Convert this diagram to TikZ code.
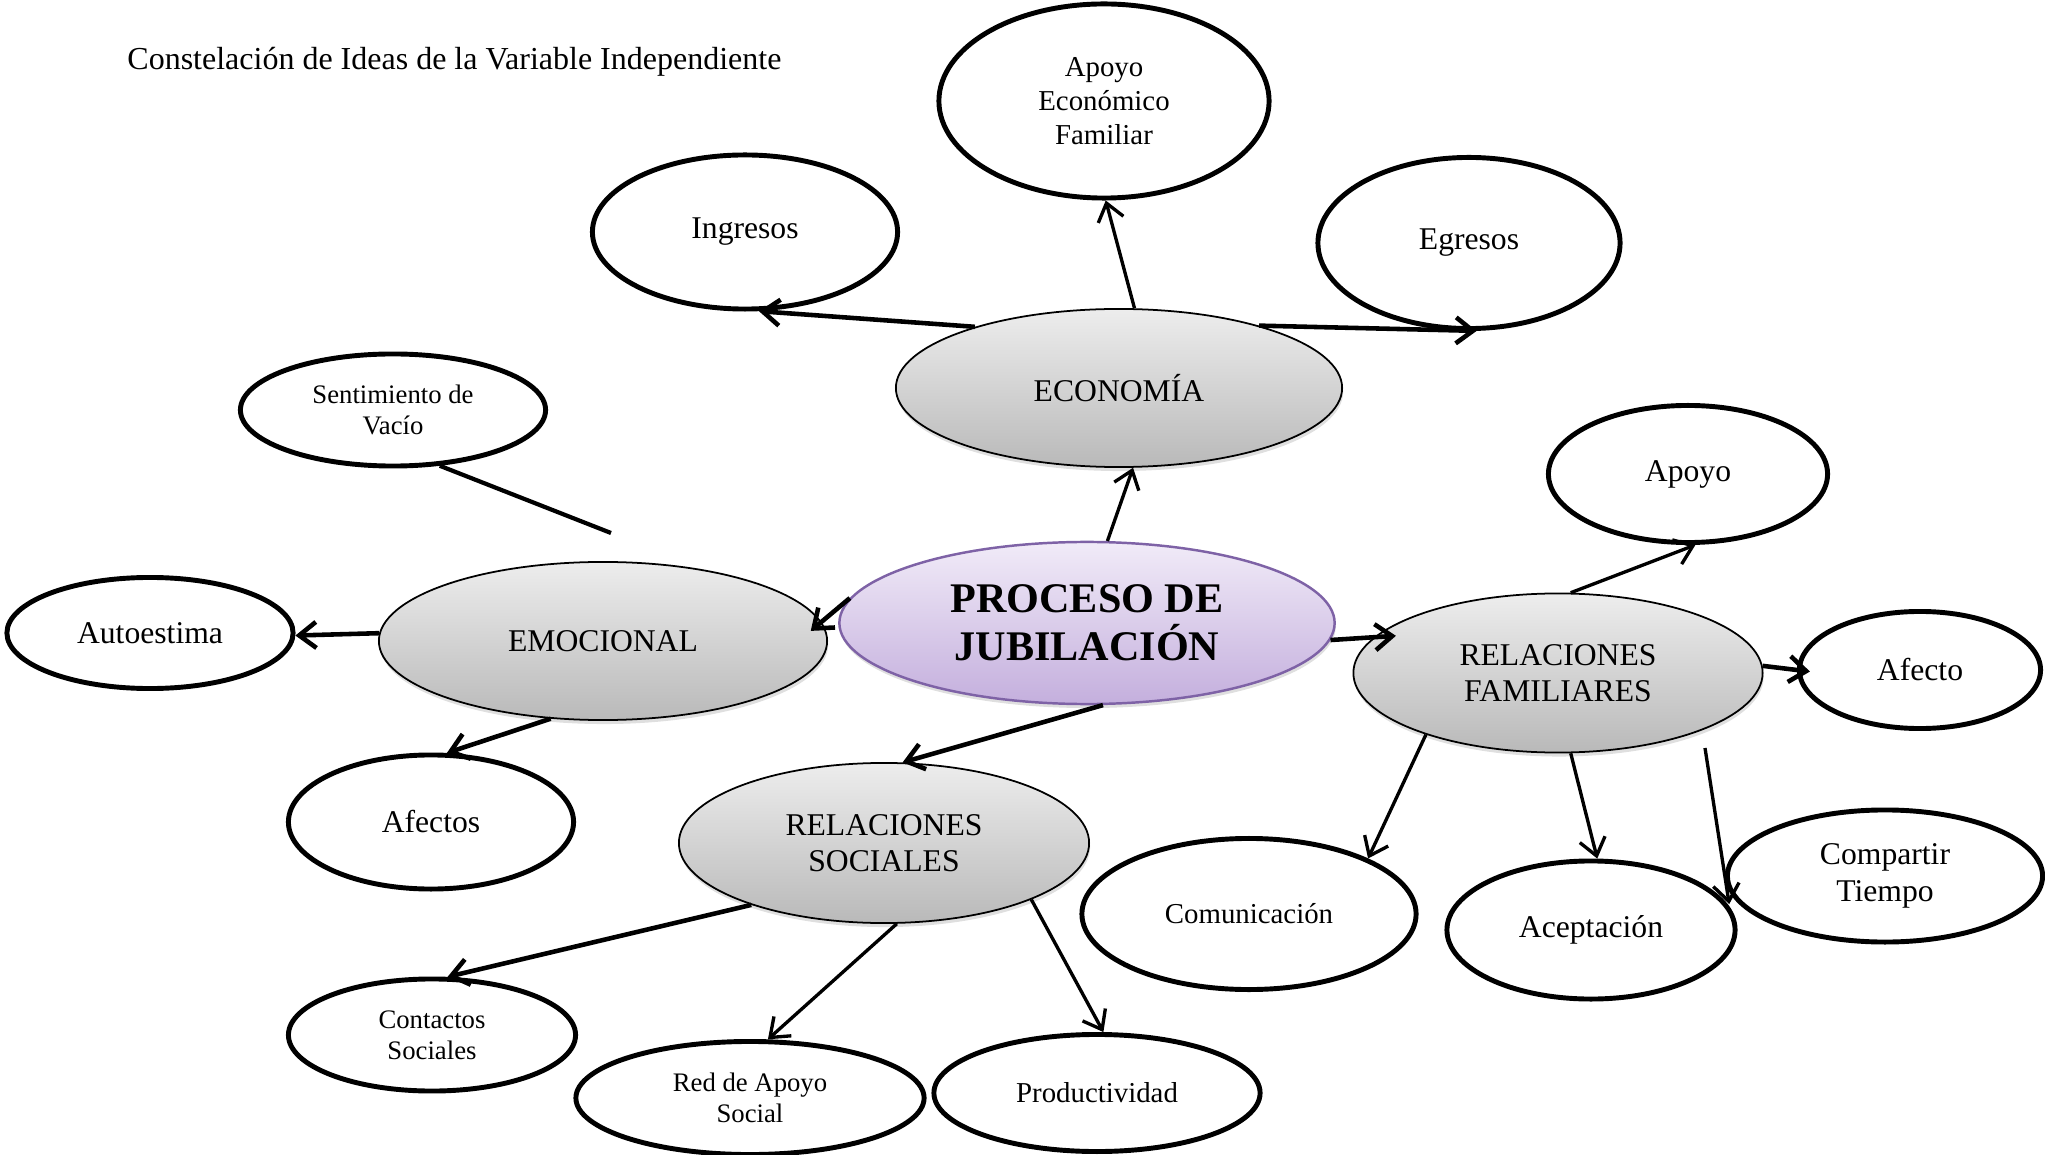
\documentclass[tikz,border=0pt]{standalone}
\usepackage{fontspec}
\setmainfont{Liberation Serif}
\usetikzlibrary{shapes.geometric,arrows.meta,shadows}

\definecolor{grisclaro}{HTML}{EDEDED}
\definecolor{grisoscuro}{HTML}{B9B9B9}
\definecolor{lilaclaro}{HTML}{F1EBF8}
\definecolor{lilaoscuro}{HTML}{C4AFDD}
\definecolor{lilaborde}{HTML}{7E62A6}

\tikzset{
	idea/.style={ellipse, draw, line width=1.4pt, fill=white, inner sep=0pt, align=center,
		font=\fontsize{9}{10.4}\selectfont},
	ideachica/.style={idea, font=\fontsize{7.6}{8.9}\selectfont},
	ideamedia/.style={idea, font=\fontsize{8.2}{9.6}\selectfont},
	eje/.style={idea, line width=0.5pt, top color=grisclaro, bottom color=grisoscuro,
		drop shadow={shadow xshift=0.01cm, shadow yshift=-0.04cm, opacity=0.25}},
	centro/.style={eje, draw=lilaborde, line width=0.7pt, top color=lilaclaro, bottom color=lilaoscuro,
		font=\fontsize{12}{13.7}\selectfont\bfseries},
	flecha/.style={line width=1.3pt, -{Straight Barb[length=0.17cm, width=0.26cm]}},
	fina/.style={flecha, line width=0.95pt}
}

\begin{document}
\begin{tikzpicture}[x=0.01cm,y=-0.01cm]

	\useasboundingbox (0,0) rectangle (2045,1155);

	\coordinate (Cproc) at (1087,623);
	\coordinate (Ceco) at (1119,388);
	\coordinate (Cemo) at (603,641);
	\coordinate (Crfam) at (1558,673);
	\coordinate (Crsoc) at (884,843);

	\coordinate (vacFin) at (611,533);
	\coordinate (cmpIni) at (1705,748);

	\node[anchor=west, font=\fontsize{9.1}{11}\selectfont] (titulo) at (115,62) {Constelación de Ideas de la Variable Independiente};

	\node[centro, minimum width=4.95cm, minimum height=1.62cm] (proc) at (Cproc) {PROCESO DE\\JUBILACIÓN};

	\node[eje, minimum width=4.46cm, minimum height=1.58cm] (eco) at (Ceco) {ECONOMÍA};
	\node[eje, minimum width=4.48cm, minimum height=1.58cm] (emo) at (Cemo) {EMOCIONAL};
	\node[eje, minimum width=4.09cm, minimum height=1.59cm] (rfam) at (Crfam) {RELACIONES\\FAMILIARES};
	\node[eje, minimum width=4.10cm, minimum height=1.60cm] (rsoc) at (Crsoc) {RELACIONES\\SOCIALES};

	\node[ideamedia, minimum width=3.30cm, minimum height=1.94cm] (fam) at (1104,101) {Apoyo\\Económico\\Familiar};
	\node[idea, minimum width=3.05cm, minimum height=1.54cm] (ing) at (745,232) {Ingresos};
	\node[idea, minimum width=3.02cm, minimum height=1.71cm] (egr) at (1469,243) {Egresos};

	\node[ideachica, minimum width=3.05cm, minimum height=1.12cm] (vac) at (393,410) {Sentimiento de\\Vacío};
	\node[idea, minimum width=2.86cm, minimum height=1.11cm] (aut) at (150,633) {Autoestima};
	\node[idea, minimum width=2.85cm, minimum height=1.34cm] (afs) at (431,822) {Afectos};

	\node[idea, minimum width=2.79cm, minimum height=1.37cm] (apo) at (1688,474) {Apoyo};
	\node[idea, minimum width=2.41cm, minimum height=1.17cm] (afe) at (1920,670) {Afecto};
	\node[ideamedia, minimum width=3.34cm, minimum height=1.51cm] (com) at (1249,914) {Comunicación};
	\node[idea, minimum width=2.88cm, minimum height=1.38cm] (ace) at (1591,930) {Aceptación};
	\node[idea, minimum width=3.15cm, minimum height=1.32cm] (cmp) at (1885,876) {Compartir\\Tiempo};

	\node[ideachica, minimum width=2.87cm, minimum height=1.12cm] (con) at (432,1035) {Contactos\\Sociales};
	\node[ideachica, minimum width=3.48cm, minimum height=1.13cm] (red) at (750,1098) {Red de Apoyo\\Social};
	\node[ideamedia, minimum width=3.26cm, minimum height=1.17cm] (prod) at (1097,1093) {Productividad};

	\draw[flecha] (eco.157) -- (ing.-80);
	\draw[fina] (eco.79) -- (fam.-89);
	\draw[flecha] (eco.24) -- (egr.-85);
	\draw[fina] (proc.76) -- (eco.-80);

	\draw[line width=1.2pt] (vac.-50) -- (vacFin);
	\draw[flecha, shorten >=-0.14cm] (proc.174) -- (emo.5);
	\draw[flecha] (emo.178) -- (aut.-1);
	\draw[flecha] (emo.-124) -- (afs.77);

	\draw[flecha] (proc.-79) -- (rsoc.77);
	\draw[flecha, shorten >=-0.22cm] (proc.-4) -- (rfam.169);

	\draw[fina] (rfam.81) -- (apo.-84);
	\draw[flecha, shorten >=-0.13cm] (rfam.2) -- (afe.180);
	\draw[fina] (rfam.-155) -- (com.25);
	\draw[fina] (rfam.-81) -- (ace.85);
	\draw[fina, shorten >=-0.2cm] (cmpIni) -- (cmp.183);

	\draw[flecha] (rsoc.-155) -- (con.75);
	\draw[fina] (rsoc.-81) -- (red.73);
	\draw[fina] (rsoc.-21) -- (prod.84);

\end{tikzpicture}
\end{document}
